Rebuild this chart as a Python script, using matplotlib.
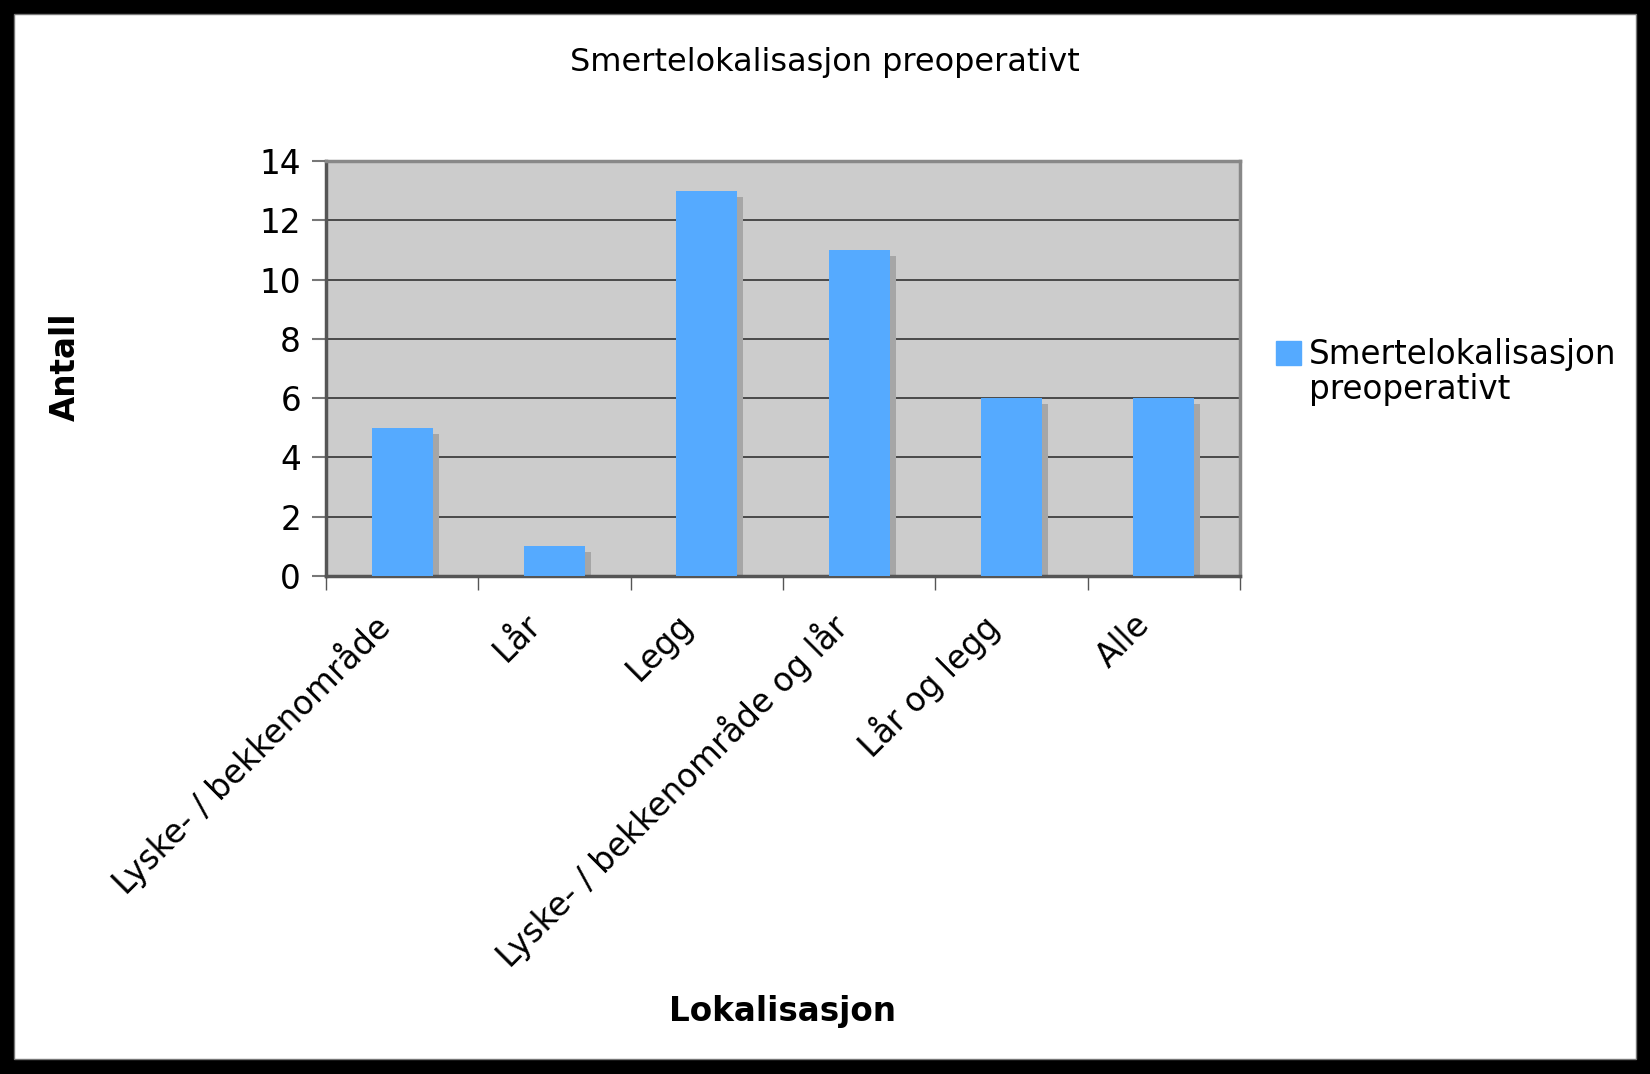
import numpy as np
import matplotlib
matplotlib.use('Agg')
from matplotlib import pyplot as plt
from matplotlib import transforms
from matplotlib.patches import Rectangle, Patch

categories = ['Lyske- / bekkenområde', 'Lår', 'Legg',
              'Lyske- / bekkenområde og lår', 'Lår og legg', 'Alle']
values = [5, 1, 13, 11, 6, 6]
series_name = 'Smertelokalisasjon\npreoperativt'
title = 'Smertelokalisasjon preoperativt'
y_ticks = [0, 2, 4, 6, 8, 10, 12, 14]

bar_color = '#55aaff'
shadow_color = '#a6a6a6'
plot_bg = '#cccccc'

plt.rcParams['font.family'] = ['DejaVu Sans']

fig = plt.figure(figsize=(16.5, 10.74), dpi=100)
fig.patch.set_facecolor('black')
fig.add_artist(Rectangle((14 / 1650, 15 / 1074), (1636 - 14) / 1650, (1060 - 15) / 1074,
                         transform=fig.transFigure, facecolor='white',
                         edgecolor='#777777', linewidth=1, zorder=-10))

ax = fig.add_axes([326 / 1650, 1 - 576 / 1074, (1240 - 326) / 1650, (576 - 161) / 1074])
ax.set_facecolor(plot_bg)

x = np.arange(len(categories))
shadow = transforms.offset_copy(ax.transData, fig=fig, x=6, y=-6, units='dots')
ax.bar(x, values, width=0.4, color=shadow_color, transform=shadow, zorder=2)
bars = ax.bar(x, values, width=0.4, color=bar_color, zorder=3)

ax.set_xlim(-0.5, len(categories) - 0.5)
ax.set_ylim(0, 14)
ax.set_yticks(y_ticks)
ax.yaxis.grid(True, color='#333333', linewidth=1.2, zorder=1)
ax.set_axisbelow(True)

ax.set_xticks(x)
ax.set_xticks(np.arange(-0.5, len(categories), 1.0), minor=True)
ax.tick_params(axis='x', which='major', length=0, pad=23)
ax.tick_params(axis='x', which='minor', length=10, width=1, color='#555555')
ax.tick_params(axis='y', length=10, width=1.5, color='#777777', labelsize=23.5, pad=8)
ax.set_xticklabels(categories, rotation=45, ha='right', va='top',
                   rotation_mode='anchor', fontsize=23.5)
label_shift = transforms.ScaledTranslation(-31 / 100, 0, fig.dpi_scale_trans)
for lbl in ax.get_xticklabels():
    lbl.set_transform(lbl.get_transform() + label_shift)

for side in ['left', 'bottom']:
    ax.spines[side].set_color('#555555')
    ax.spines[side].set_linewidth(2.5)
for side in ['top', 'right']:
    ax.spines[side].set_color('#888888')
    ax.spines[side].set_linewidth(2.5)

fig.text(0.5, 1 - 62 / 1074, title, ha='center', va='center', fontsize=23)
fig.text(783 / 1650, 1 - 1011 / 1074, 'Lokalisasjon', ha='center', va='center',
         fontsize=23.5, fontweight='bold')
fig.text(65 / 1650, 1 - 367 / 1074, 'Antall', ha='center', va='center',
         rotation=90, fontsize=23.5, fontweight='bold')

# square sits next to the first line only, like the original
name_lines = series_name.split('\n')
handles = [Patch(color=bar_color)] + [Patch(color='none') for _ in name_lines[1:]]
ax.legend(handles, name_lines, loc='upper left',
          bbox_to_anchor=(1260 / 1650, 1 - 322 / 1074),
          bbox_transform=fig.transFigure, frameon=False, fontsize=23.5,
          handlelength=0.75, handleheight=0.75, handletextpad=0.25, borderpad=0,
          labelspacing=0.05)

fig.savefig('out.png', dpi=100, facecolor=fig.get_facecolor())
